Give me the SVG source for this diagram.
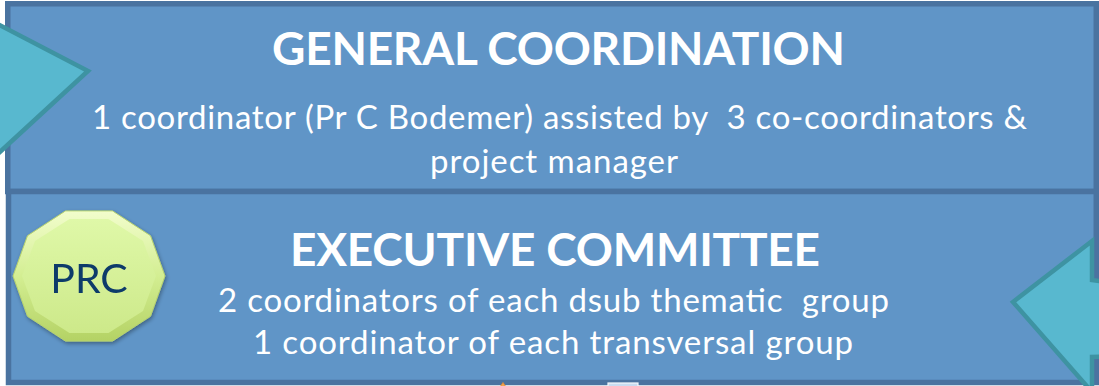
<svg xmlns="http://www.w3.org/2000/svg" width="1099" height="386" viewBox="0 0 1099 386">
  <defs>
    <style>
      .box { fill: #6095c7; stroke: #4a73a0; stroke-width: 5.5; }
      .title { font-family: Lato, "Open Sans", "Liberation Sans", sans-serif; font-weight: 700; fill: #ffffff; }
      .body { font-family: Lato, "Open Sans", "Liberation Sans", sans-serif; fill: #ffffff; white-space: pre; }
      .block-arrow { fill: #58b8cf; stroke: #3e93a2; stroke-width: 4.5; stroke-linejoin: miter; }
      .prc-label { font-family: Lato, "Open Sans", "Liberation Sans", sans-serif; fill: #0e3a6a; }
    </style>
    <linearGradient id="prcEdge" x1="0" y1="0" x2="0" y2="1">
      <stop offset="0" stop-color="#f2fdcc"/>
      <stop offset="0.5" stop-color="#d3ee92"/>
      <stop offset="1" stop-color="#b4d264"/>
    </linearGradient>
    <linearGradient id="prcFace" x1="0" y1="0" x2="0" y2="1">
      <stop offset="0" stop-color="#dff8a8"/>
      <stop offset="1" stop-color="#cde98a"/>
    </linearGradient>
    <filter id="softShadow" x="-20%" y="-20%" width="140%" height="140%">
      <feGaussianBlur in="SourceAlpha" stdDeviation="2"/>
      <feOffset dx="1" dy="2" result="blur"/>
      <feComponentTransfer><feFuncA type="linear" slope="0.35"/></feComponentTransfer>
      <feMerge><feMergeNode/><feMergeNode in="SourceGraphic"/></feMerge>
    </filter>
  </defs>

  <rect x="0" y="0" width="1099" height="386" fill="#ffffff"/>

  <!-- upper tier -->
  <g id="general-coordination">
    <rect class="box" x="7.75" y="3.75" width="1088.5" height="187.75"/>
    <text class="title" x="558.5" y="65" font-size="46" text-anchor="middle" textLength="573">GENERAL COORDINATION</text>
    <text class="body" x="559.5" y="129" font-size="33" text-anchor="middle" textLength="935">1 coordinator (Pr C Bodemer) assisted by  3 co-coordinators &amp;</text>
    <text class="body" x="554" y="173" font-size="33" text-anchor="middle" textLength="248">project manager</text>
  </g>

  <!-- lower tier -->
  <g id="executive-committee">
    <rect class="box" x="8.5" y="191.5" width="1087.75" height="191"/>
    <text class="title" x="555" y="266" font-size="46" text-anchor="middle" textLength="530">EXECUTIVE COMMITTEE</text>
    <text class="body" x="553.5" y="312" font-size="33" text-anchor="middle" textLength="671">2 coordinators of each dsub thematic  group</text>
    <text class="body" x="553" y="354" font-size="33" text-anchor="middle" textLength="600">1 coordinator of each transversal group</text>
  </g>

  <!-- PRC badge -->
  <g id="prc" filter="url(#softShadow)">
    <polygon points="165,276 150.5,316.3 112.5,341.1 65.5,341.1 27.5,316.3 13,276 27.5,235.7 65.5,210.9 112.5,210.9 150.5,235.7"
             fill="url(#prcEdge)" stroke="#b9d36e" stroke-width="1"/>
    <polygon points="156,276 143,311 108.5,333 69.5,333 35,311 22,276 35,241 69.5,219 108.5,219 143,241"
             fill="url(#prcFace)"/>
    <text class="prc-label" x="89" y="293" font-size="41" text-anchor="middle">PRC</text>
  </g>

  <!-- block arrows entering the tiers -->
  <g id="connectors">
    <polygon class="block-arrow" points="-40,4.5 88,71 -30,179.5"/>
    <polygon class="block-arrow" points="1013,302 1092,241 1092,280 1112,283 1112,356 1092,357 1092,392"/>
    <!-- tips of shapes just below the frame -->
    <polygon points="503,382.5 498,390 508,390" fill="#f0a452" stroke="#e58a2e" stroke-width="0.8"/>
    <rect x="608" y="383" width="30" height="10" fill="#c9dcf1" stroke="#f4f8fc" stroke-width="1.2"/>
  </g>
</svg>
